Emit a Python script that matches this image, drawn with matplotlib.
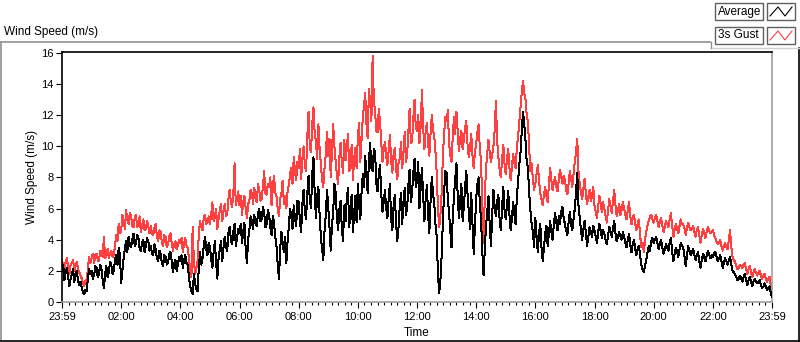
import numpy as np
import matplotlib
matplotlib.use("Agg")
import matplotlib.pyplot as plt
from matplotlib.patches import Rectangle
from matplotlib.lines import Line2D

# 2.5-minute samples from 23:59 to 23:59 next day, one row per hour
avg_rows = [
    [2.0, 2.4, 1.4, 1.9, 2.2, 1.6, 1.0, 1.5, 1.8, 2.1, 1.3, 1.7, 2.0, 1.4, 1.1, 1.3, 0.9, 0.6, 0.5, 0.8, 0.7, 1.5, 2.1, 1.8],
    [2.0, 1.5, 1.7, 2.3, 2.2, 1.6, 1.8, 2.4, 2.1, 1.4, 0.9, 1.8, 2.3, 1.6, 1.9, 2.6, 2.4, 1.8, 2.0, 2.7, 3.0, 2.4, 3.5, 3.0],
    [1.2, 2.0, 2.8, 3.4, 3.9, 3.2, 4.2, 3.7, 3.5, 4.0, 4.4, 3.6, 3.8, 4.3, 4.1, 3.4, 3.3, 3.8, 4.0, 3.2, 3.6, 4.1, 3.9, 3.3],
    [3.6, 3.1, 3.0, 3.7, 3.4, 2.8, 2.6, 3.3, 3.1, 2.5, 2.3, 3.0, 2.9, 2.4, 2.5, 3.1, 3.2, 2.6, 1.9, 2.5, 2.7, 2.0, 2.4, 2.9],
    [2.6, 3.0, 2.2, 2.7, 3.0, 2.5, 2.4, 1.6, 1.0, 0.7, 0.5, 1.8, 1.2, 0.8, 0.7, 2.2, 3.2, 2.4, 2.8, 3.6, 4.2, 3.4, 3.0, 3.8],
    [3.5, 2.8, 2.2, 3.2, 3.9, 2.6, 1.5, 2.8, 3.4, 3.9, 2.6, 3.5, 4.2, 3.6, 3.3, 4.4, 4.8, 4.0, 3.7, 4.5, 5.0, 3.6, 4.1, 4.7],
    [4.4, 5.0, 3.8, 4.5, 5.1, 3.4, 2.5, 4.0, 4.6, 5.5, 5.2, 4.7, 5.6, 5.1, 4.9, 5.7, 6.0, 5.2, 5.3, 6.1, 5.8, 4.8, 5.0, 5.9],
    [5.6, 4.8, 4.3, 5.5, 5.1, 4.2, 3.6, 2.4, 1.5, 3.4, 4.5, 3.8, 3.2, 4.2, 2.5, 3.9, 4.8, 6.0, 5.5, 4.7, 6.2, 5.4, 4.9, 6.5],
    [6.4, 5.2, 4.5, 6.3, 7.2, 5.8, 5.3, 7.0, 8.1, 6.6, 6.0, 8.2, 9.3, 7.0, 5.4, 6.8, 7.4, 5.6, 4.2, 3.4, 2.7, 4.6, 5.6, 7.2],
    [6.1, 4.8, 3.3, 4.9, 5.8, 7.6, 7.0, 5.5, 4.6, 5.9, 6.5, 4.7, 3.9, 6.2, 5.2, 6.6, 7.3, 4.8, 5.9, 6.9, 4.5, 5.7, 6.8, 5.1],
    [7.6, 6.3, 5.3, 7.0, 8.2, 7.4, 9.4, 8.0, 7.0, 9.1, 10.2, 8.6, 8.4, 9.8, 9.6, 7.6, 7.1, 8.2, 8.8, 6.9, 5.8, 6.4, 7.2, 6.0],
    [5.4, 6.6, 7.6, 5.3, 4.6, 6.2, 6.9, 5.1, 3.9, 4.8, 6.1, 7.0, 5.0, 6.4, 7.3, 5.6, 6.0, 7.5, 8.5, 6.4, 7.0, 8.3, 9.2, 7.4],
    [7.8, 9.0, 6.0, 7.4, 8.6, 6.8, 5.2, 6.6, 7.5, 5.6, 4.4, 6.5, 8.0, 7.0, 6.3, 5.0, 4.2, 1.8, 0.6, 1.4, 3.0, 5.2, 7.1, 8.4],
    [8.3, 6.6, 5.7, 4.6, 3.5, 5.4, 6.8, 7.9, 8.9, 6.9, 5.4, 6.5, 7.6, 5.2, 6.1, 7.4, 8.4, 6.9, 5.8, 4.7, 7.0, 5.0, 3.1, 4.8],
    [6.6, 7.6, 8.0, 6.3, 5.2, 3.2, 1.7, 3.4, 4.9, 5.8, 6.8, 4.9, 3.6, 5.6, 7.2, 6.1, 5.5, 6.4, 6.9, 5.3, 4.6, 6.0, 7.4, 5.9],
    [5.3, 6.2, 7.1, 5.6, 4.6, 5.4, 6.4, 5.6, 5.0, 6.7, 7.8, 8.8, 9.6, 11.0, 12.2, 11.4, 10.4, 9.0, 8.6, 7.0, 5.9, 5.0, 4.5, 3.5],
    [5.4, 4.2, 3.2, 4.4, 5.0, 3.5, 2.6, 3.5, 4.4, 4.9, 3.6, 4.4, 5.2, 4.5, 4.0, 5.0, 5.7, 5.1, 4.6, 5.5, 5.0, 5.8, 6.1, 5.4],
    [5.0, 4.6, 4.3, 5.1, 5.8, 5.0, 4.6, 5.3, 6.0, 7.0, 8.3, 6.2, 5.4, 4.6, 4.0, 4.7, 5.2, 4.4, 3.6, 4.2, 4.8, 4.5, 4.2, 4.9],
    [4.6, 4.2, 3.8, 4.5, 5.0, 4.6, 4.1, 4.6, 4.4, 4.0, 3.7, 4.3, 4.8, 4.5, 4.2, 4.7, 5.2, 4.4, 3.9, 4.2, 4.5, 4.2, 4.0, 4.5],
    [4.2, 3.8, 3.5, 4.0, 4.4, 3.7, 3.2, 3.7, 4.0, 3.4, 3.0, 3.4, 3.6, 3.0, 2.4, 2.1, 1.9, 2.3, 2.7, 3.2, 3.6, 3.3, 3.9, 4.1],
    [3.8, 4.0, 4.2, 3.8, 3.4, 3.7, 4.0, 3.5, 3.1, 3.4, 3.7, 3.5, 3.3, 3.8, 4.1, 3.2, 2.6, 3.1, 3.5, 3.2, 2.9, 3.4, 3.8, 3.6],
    [3.5, 2.9, 2.3, 3.0, 3.6, 3.3, 3.0, 3.2, 3.4, 3.0, 2.7, 3.0, 3.2, 2.6, 2.2, 2.7, 3.1, 2.9, 2.6, 3.0, 3.3, 3.1, 2.8, 3.0],
    [2.9, 3.1, 3.2, 2.9, 2.6, 2.8, 3.0, 2.6, 2.2, 2.5, 2.8, 2.6, 2.4, 2.7, 2.9, 2.4, 2.0, 1.9, 1.8, 1.6, 1.4, 1.5, 1.7, 1.5],
    [1.3, 1.6, 1.8, 1.4, 1.1, 1.4, 1.6, 1.3, 1.0, 1.3, 1.5, 1.3, 1.2, 1.3, 1.4, 1.1, 0.9, 1.0, 1.2, 1.0, 0.8, 0.9, 1.0, 0.6, 0.3],
]
gust_rows = [
    [2.7, 2.3, 2.0, 2.6, 2.8, 2.2, 1.8, 2.4, 2.5, 2.7, 2.0, 2.3, 2.6, 2.1, 1.9, 1.7, 1.5, 1.2, 1.0, 1.4, 1.3, 2.2, 2.9, 2.5],
    [2.8, 3.1, 2.5, 3.0, 3.1, 2.7, 2.6, 3.3, 3.2, 2.9, 4.2, 2.8, 3.0, 3.4, 2.8, 3.1, 3.3, 2.9, 3.0, 3.6, 4.3, 3.9, 5.0, 4.4],
    [4.6, 5.6, 5.2, 4.7, 5.9, 5.3, 5.0, 5.7, 5.5, 4.9, 4.8, 5.4, 5.6, 4.8, 5.1, 5.5, 4.5, 4.9, 5.3, 4.6, 4.7, 5.2, 4.9, 4.4],
    [4.9, 4.4, 4.3, 4.8, 5.0, 4.2, 3.9, 4.6, 4.5, 3.8, 3.6, 4.3, 4.2, 3.5, 3.7, 4.2, 4.4, 3.8, 3.3, 3.7, 3.9, 3.4, 3.6, 4.0],
    [3.8, 4.1, 3.2, 3.7, 4.1, 3.6, 3.5, 2.8, 2.0, 1.6, 4.8, 2.6, 1.8, 2.2, 2.6, 4.4, 5.2, 4.8, 4.6, 5.4, 5.6, 5.0, 5.1, 5.5],
    [5.0, 5.6, 6.4, 5.2, 5.4, 6.0, 4.7, 5.3, 5.9, 6.3, 5.2, 5.8, 6.3, 5.5, 5.6, 6.6, 7.2, 6.4, 6.1, 7.0, 8.9, 6.2, 6.6, 7.1],
    [6.2, 6.8, 5.6, 6.4, 6.8, 6.0, 5.4, 6.3, 6.5, 7.2, 7.0, 6.3, 7.3, 6.7, 6.4, 7.6, 7.2, 6.5, 6.6, 7.4, 8.4, 7.0, 6.9, 7.6],
    [7.4, 8.0, 6.2, 7.3, 8.1, 7.0, 6.8, 6.0, 5.5, 6.6, 7.0, 7.8, 6.3, 6.8, 6.0, 7.1, 7.5, 8.2, 8.6, 7.6, 9.3, 8.4, 7.8, 9.0],
    [8.6, 9.8, 7.9, 9.2, 10.0, 8.8, 8.4, 10.6, 12.2, 10.0, 9.6, 11.4, 12.5, 10.8, 10.3, 9.2, 11.4, 9.8, 8.9, 7.8, 7.4, 8.6, 9.5, 10.9],
    [9.4, 10.5, 8.0, 9.6, 11.4, 10.0, 9.0, 8.2, 7.6, 9.3, 10.2, 9.0, 8.3, 10.4, 9.1, 9.8, 10.8, 8.4, 8.7, 10.1, 7.8, 9.2, 9.9, 8.6],
    [10.6, 11.5, 9.0, 10.4, 11.8, 12.6, 13.4, 11.4, 10.5, 13.7, 12.8, 11.6, 15.8, 12.9, 12.2, 11.0, 10.9, 12.4, 11.6, 10.2, 9.0, 9.8, 10.3, 9.4],
    [8.8, 9.7, 10.7, 9.1, 8.3, 9.5, 9.9, 8.6, 7.9, 8.9, 9.2, 10.3, 8.6, 9.6, 10.9, 9.0, 9.5, 11.0, 12.4, 10.2, 10.3, 11.8, 13.0, 11.2],
    [11.0, 12.0, 10.2, 11.3, 13.6, 11.2, 9.8, 10.9, 11.5, 10.2, 9.4, 10.8, 12.0, 11.1, 10.6, 9.6, 8.3, 6.0, 4.8, 5.6, 7.0, 9.4, 10.8, 11.9],
    [11.6, 12.3, 10.2, 9.4, 9.0, 10.6, 11.9, 10.8, 12.2, 11.0, 9.7, 10.5, 11.0, 9.8, 10.4, 11.2, 11.6, 10.1, 9.3, 9.9, 10.8, 9.4, 8.6, 9.6],
    [10.2, 10.9, 11.4, 9.8, 9.0, 6.0, 3.8, 6.8, 8.6, 9.6, 10.4, 9.6, 9.0, 9.5, 10.0, 11.0, 12.9, 10.4, 9.3, 8.5, 8.0, 9.1, 10.1, 8.9],
    [8.2, 9.2, 9.8, 8.6, 7.8, 8.7, 9.5, 8.9, 8.6, 9.9, 10.6, 11.6, 12.5, 13.5, 14.2, 13.4, 13.0, 12.0, 11.6, 9.9, 8.4, 8.9, 7.9, 7.2],
    [7.6, 8.2, 8.8, 7.8, 7.0, 6.6, 6.2, 6.9, 7.4, 6.8, 6.4, 7.5, 8.6, 7.8, 7.2, 7.7, 8.0, 7.4, 7.1, 7.8, 8.5, 8.0, 7.6, 8.1],
    [7.8, 7.2, 6.9, 7.6, 8.4, 7.9, 7.4, 8.2, 9.0, 9.6, 10.5, 8.4, 7.6, 7.0, 6.6, 7.3, 7.9, 6.9, 6.3, 6.8, 7.2, 6.5, 6.8, 7.4],
    [6.2, 5.8, 5.4, 6.2, 6.8, 6.3, 5.8, 6.4, 6.0, 5.5, 5.1, 5.9, 6.6, 6.1, 5.7, 6.5, 7.2, 6.2, 5.5, 5.9, 6.3, 5.6, 5.9, 6.4],
    [6.0, 5.6, 5.3, 5.9, 6.4, 5.5, 5.0, 5.4, 5.6, 5.0, 4.6, 5.0, 5.3, 4.3, 3.5, 3.8, 3.2, 4.0, 4.5, 4.9, 5.2, 5.5, 5.6, 5.3],
    [5.1, 5.4, 5.6, 5.2, 4.8, 5.1, 5.4, 4.9, 4.5, 4.8, 5.2, 5.0, 4.8, 5.3, 5.7, 4.9, 4.2, 4.6, 5.0, 4.7, 4.4, 4.9, 5.3, 5.0],
    [5.0, 4.7, 4.3, 4.8, 5.1, 4.8, 4.6, 4.7, 4.9, 4.5, 4.2, 4.6, 4.8, 4.3, 3.8, 4.3, 4.7, 4.4, 4.1, 4.5, 4.8, 4.6, 4.4, 4.5],
    [4.6, 4.3, 4.1, 3.9, 3.7, 3.8, 4.0, 3.6, 3.3, 3.6, 3.8, 3.5, 3.4, 4.0, 4.6, 3.5, 2.9, 2.7, 2.6, 2.3, 2.1, 2.2, 2.4, 2.3],
    [2.2, 2.4, 2.5, 2.1, 1.8, 2.1, 2.3, 1.9, 1.6, 1.9, 2.1, 1.9, 1.7, 1.9, 2.0, 1.7, 1.5, 1.7, 1.8, 1.5, 1.3, 1.5, 1.6, 1.1, 0.7],
]
avg = [v for row in avg_rows for v in row]
gust = [v for row in gust_rows for v in row]
minutes = np.arange(len(avg)) * 2.5

tick_minutes = list(range(0, 1441, 120))
tick_labels = ["23:59", "02:00", "04:00", "06:00", "08:00", "10:00", "12:00",
               "14:00", "16:00", "18:00", "20:00", "22:00", "23:59"]
y_ticks = [0, 2, 4, 6, 8, 10, 12, 14, 16]

plt.rcParams["font.family"] = ["Liberation Sans", "DejaVu Sans"]

W, H = 800, 342
fig = plt.figure(figsize=(W / 100, H / 100), dpi=100)
fig.patch.set_facecolor("white")

def fx(x):
    return x / W

def fy(y):
    return 1 - y / H

# plot area
ax = fig.add_axes([fx(62), fy(302), fx(772) - fx(62), fy(52) - fy(302)])
ax.plot(minutes, avg, color="black", lw=0.72, antialiased=False, zorder=3)
ax.plot(minutes, gust, color="#ff4040", lw=0.72, antialiased=False, zorder=2)
ax.set_xlim(0, 1440)
ax.set_ylim(0, 16.05)
ax.set_xticks(tick_minutes)
ax.set_xticklabels(tick_labels)
ax.set_xticks(np.arange(0, 1441, 120 / 9), minor=True)
ax.set_yticks(y_ticks)
ax.tick_params(axis="x", which="major", length=4, width=0.8, color="black",
               labelsize=8, pad=3)
ax.tick_params(axis="x", which="minor", length=2.5, width=0.8, color="black")
ax.tick_params(axis="y", which="major", length=4, width=0.8, color="black",
               labelsize=8, pad=2)
for s in ("top", "left"):
    ax.spines[s].set_color("black")
    ax.spines[s].set_linewidth(1.2)
for s in ("bottom", "right"):
    ax.spines[s].set_color("#a0a0a0")
    ax.spines[s].set_linewidth(1.2)
ax.set_xlabel("Time", fontsize=8.5, labelpad=4)
ax.set_ylabel("Wind Speed (m/s)", fontsize=8.5, labelpad=2)

# outer panel frame
fig.add_artist(Line2D([fx(0), fx(710)], [fy(42), fy(42)], color="#909090", lw=1.2))
fig.add_artist(Line2D([fx(1), fx(1)], [fy(42), fy(340)], color="#909090", lw=1.2))
fig.add_artist(Line2D([fx(0), fx(800)], [fy(340.5), fy(340.5)], color="black", lw=1.2))
fig.add_artist(Line2D([fx(798.5), fx(798.5)], [fy(48), fy(341)], color="black", lw=1.2))
fig.add_artist(Line2D([fx(711), fx(799)], [fy(48), fy(48)], color="#d0d0d0", lw=1.0))
fig.add_artist(Line2D([fx(711), fx(711)], [fy(42), fy(48)], color="#909090", lw=1.0))

fig.text(fx(4), fy(32), "Wind Speed (m/s)", fontsize=8.5, va="center", ha="left")

# legend boxes
legend_names = ["Average", "3s Gust"]
legend_colors = ["black", "#ff4040"]
for i, (name, col) in enumerate(zip(legend_names, legend_colors)):
    top = 3 + i * 24
    fig.add_artist(Rectangle((fx(715), fy(top + 17)), fx(48), 17 / H,
                             facecolor="white", edgecolor="#606060", lw=1.0))
    fig.text(fx(718), fy(top + 8.5), name, fontsize=8.5, va="center", ha="left")
    fig.add_artist(Rectangle((fx(767), fy(top + 17)), fx(28), 17 / H,
                             facecolor="white", edgecolor="#606060", lw=1.0))
    sx = [770, 778, 785, 792]
    sy = [top + 13, top + 4, top + 13, top + 4]
    fig.add_artist(Line2D([fx(v) for v in sx], [fy(v) for v in sy], color=col, lw=0.8))

fig.savefig("out.png", dpi=100, facecolor="white")
